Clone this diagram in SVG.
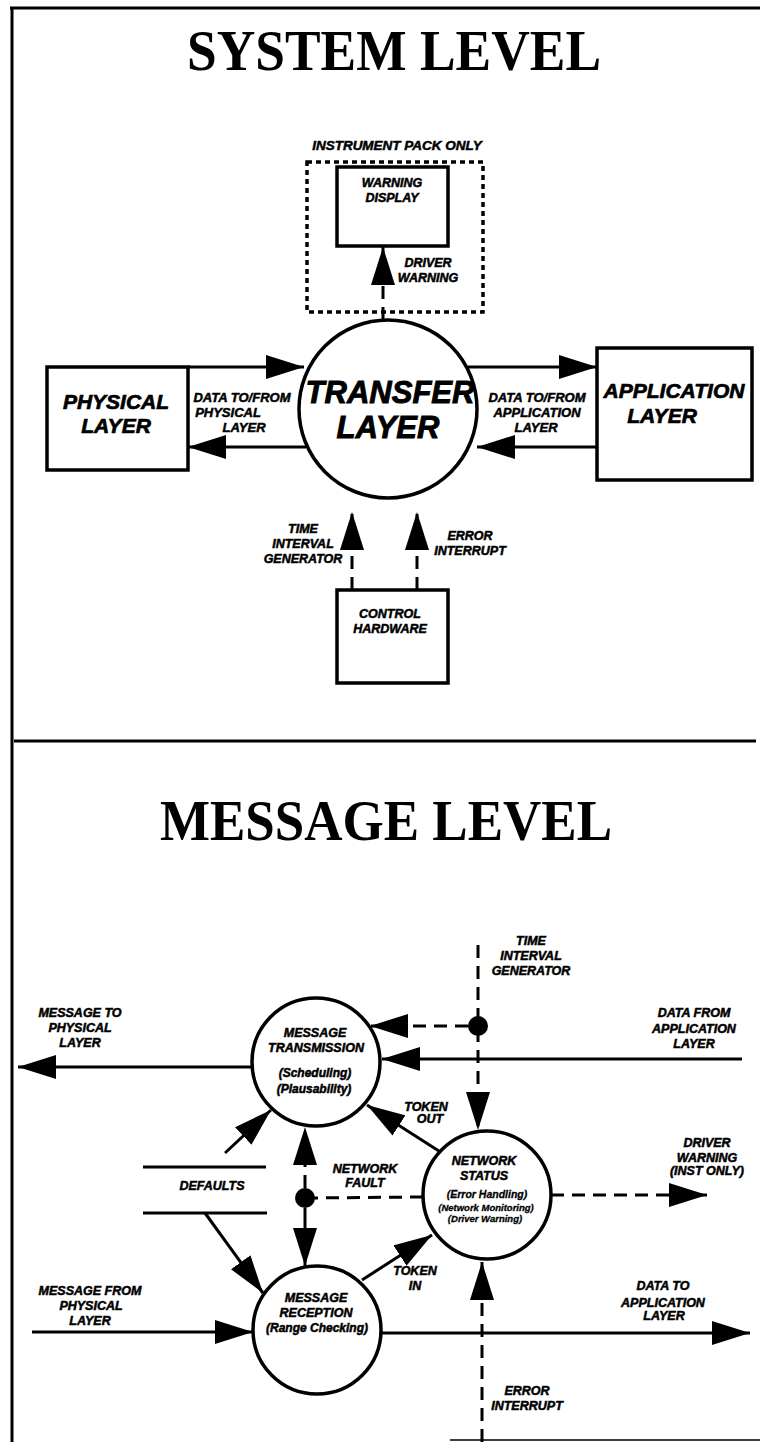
<svg xmlns="http://www.w3.org/2000/svg" width="760" height="1442" viewBox="0 0 760 1442">
<style>
.t{font-family:"Liberation Sans",Arial,sans-serif;font-weight:bold;font-style:italic;fill:#000;stroke:#000;stroke-width:0.5;text-anchor:middle;font-size:12.5px}
.s{font-size:10.5px;stroke-width:0.3}
.b{font-size:21px;stroke-width:0.7}
.h{font-family:"Liberation Serif","Times New Roman",serif;font-weight:bold;font-size:56px;fill:#000;text-anchor:middle}
.ln{stroke:#000;stroke-width:3;fill:none}
.bx{stroke:#000;stroke-width:3.5;fill:#fff}
.dash{stroke-dasharray:13 8}
.dot{stroke-dasharray:5 4;stroke-width:3.5}
</style>
<defs>
<marker id="ah" viewBox="0 0 38 24" refX="38" refY="12" markerWidth="38" markerHeight="24" markerUnits="userSpaceOnUse" orient="auto">
<path d="M0,0 L38,12 L0,24 z" fill="#000"/>
</marker>
</defs>
<rect width="760" height="1442" fill="#fff"/>
<g id="frame">
<line class="ln" x1="10" y1="8" x2="760" y2="8"/>
<line class="ln" x1="12" y1="8" x2="12" y2="1442"/>
<line class="ln" x1="14" y1="741" x2="756" y2="741"/>
<line stroke="#000" stroke-width="1.5" x1="450" y1="1440" x2="760" y2="1440"/>
</g>
<g id="titles">
<text class="h" x="394" y="70" textLength="414" lengthAdjust="spacingAndGlyphs">SYSTEM LEVEL</text>
<text class="h" x="386" y="840" textLength="452" lengthAdjust="spacingAndGlyphs">MESSAGE LEVEL</text>
</g>
<g id="connectors">
<line class="ln dash" x1="383" y1="320" x2="383" y2="247" marker-end="url(#ah)"/>
<line class="ln" x1="188" y1="367" x2="304" y2="367" marker-end="url(#ah)"/>
<line class="ln" x1="306" y1="447" x2="188" y2="447" marker-end="url(#ah)"/>
<line class="ln" x1="468" y1="367" x2="597" y2="367" marker-end="url(#ah)"/>
<line class="ln" x1="597" y1="447" x2="477" y2="447" marker-end="url(#ah)"/>
<line class="ln dash" x1="352" y1="590" x2="352" y2="512" marker-end="url(#ah)"/>
<line class="ln dash" x1="417" y1="590" x2="417" y2="512" marker-end="url(#ah)"/>
<line class="ln" x1="252" y1="1067" x2="18" y2="1067" marker-end="url(#ah)"/>
<line class="ln dash" x1="478" y1="945" x2="478" y2="1130" marker-end="url(#ah)"/>
<line class="ln dash" x1="468" y1="1026" x2="370" y2="1026" marker-end="url(#ah)"/>
<line class="ln" x1="742" y1="1059" x2="382" y2="1059" marker-end="url(#ah)"/>
<line class="ln" x1="442" y1="1153" x2="367" y2="1105" marker-end="url(#ah)"/>
<line class="ln dash" x1="423" y1="1197" x2="305" y2="1198"/>
<line class="ln dash" x1="305" y1="1188" x2="305" y2="1127" marker-end="url(#ah)"/>
<line class="ln" x1="305" y1="1208" x2="305" y2="1266" marker-end="url(#ah)"/>
<line class="ln" x1="225" y1="1153" x2="271" y2="1110" marker-end="url(#ah)"/>
<line class="ln" x1="205" y1="1213" x2="263" y2="1293" marker-end="url(#ah)"/>
<line class="ln" x1="32" y1="1332" x2="253" y2="1332" marker-end="url(#ah)"/>
<line class="ln" x1="362" y1="1280" x2="432" y2="1235" marker-end="url(#ah)"/>
<line class="ln" x1="381" y1="1333" x2="750" y2="1333" marker-end="url(#ah)"/>
<line class="ln dash" x1="482" y1="1442" x2="482" y2="1262" marker-end="url(#ah)"/>
<line class="ln dash" x1="551" y1="1195" x2="707" y2="1195" marker-end="url(#ah)"/>
<circle cx="478" cy="1026" r="10" fill="#000"/>
<circle cx="305" cy="1198" r="10" fill="#000"/>
</g>
<g id="instrument-pack">
<rect class="ln dot" x="307" y="162" width="176" height="150"/>
<text class="t" x="397" y="150" style="font-size:13.5px">INSTRUMENT PACK ONLY</text>
</g>
<g id="warning-display">
<rect class="bx" x="337" y="167" width="111" height="79"/>
<text class="t" x="392" y="187">WARNING</text>
<text class="t" x="392" y="202">DISPLAY</text>
</g>
<g id="transfer-layer">
<circle class="bx" cx="388" cy="409" r="89"/>
<text class="t" x="390" y="403" style="font-size:31px;stroke-width:0.9">TRANSFER</text>
<text class="t" x="388" y="438" style="font-size:31px;stroke-width:0.9">LAYER</text>
</g>
<g id="physical-layer">
<rect class="bx" x="47" y="367" width="141" height="103"/>
<text class="t b" x="116" y="409">PHYSICAL</text>
<text class="t b" x="116" y="433">LAYER</text>
</g>
<g id="application-layer">
<rect class="bx" x="597" y="348" width="155" height="132"/>
<text class="t b" x="674" y="398">APPLICATION</text>
<text class="t b" x="662" y="423">LAYER</text>
</g>
<g id="control-hardware">
<rect class="bx" x="337" y="590" width="111" height="93"/>
<text class="t" x="390" y="618">CONTROL</text>
<text class="t" x="390" y="633">HARDWARE</text>
</g>
<g id="system-labels">
<text class="t" x="428" y="267">DRIVER</text>
<text class="t" x="428" y="282">WARNING</text>
<text class="t" x="242" y="402" style="font-size:13px">DATA TO/FROM</text>
<text class="t" x="228" y="417" style="font-size:13px">PHYSICAL</text>
<text class="t" x="244" y="432" style="font-size:13px">LAYER</text>
<text class="t" x="537" y="402" style="font-size:13px">DATA TO/FROM</text>
<text class="t" x="537" y="417" style="font-size:13px">APPLICATION</text>
<text class="t" x="536" y="432" style="font-size:13px">LAYER</text>
<text class="t" x="303" y="533">TIME</text>
<text class="t" x="303" y="548">INTERVAL</text>
<text class="t" x="303" y="563">GENERATOR</text>
<text class="t" x="470" y="540">ERROR</text>
<text class="t" x="470" y="555">INTERRUPT</text>
</g>
<g id="message-transmission">
<circle class="bx" cx="316" cy="1062" r="64"/>
<text class="t" x="315" y="1037">MESSAGE</text>
<text class="t" x="316" y="1052">TRANSMISSION</text>
<text class="t" x="315" y="1077" style="font-size:12px">(Scheduling)</text>
<text class="t" x="314" y="1093" style="font-size:12px">(Plausability)</text>
</g>
<g id="network-status">
<circle class="bx" cx="487" cy="1195" r="64"/>
<text class="t" x="484" y="1165">NETWORK</text>
<text class="t" x="484" y="1180">STATUS</text>
<text class="t s" x="487" y="1198">(Error Handling)</text>
<text class="t s" x="486" y="1211" style="font-size:9.5px">(Network Monitoring)</text>
<text class="t s" x="485" y="1222" style="font-size:9.5px">(Driver Warning)</text>
</g>
<g id="message-reception">
<circle class="bx" cx="317" cy="1330" r="64"/>
<text class="t" x="316" y="1302">MESSAGE</text>
<text class="t" x="316" y="1317">RECEPTION</text>
<text class="t" x="317" y="1332" style="font-size:12px">(Range Checking)</text>
</g>
<g id="defaults">
<line class="ln" x1="143" y1="1167" x2="266" y2="1167"/>
<line class="ln" x1="143" y1="1213" x2="267" y2="1213"/>
<text class="t" x="212" y="1190">DEFAULTS</text>
</g>
<g id="message-labels">
<text class="t" x="531" y="945">TIME</text>
<text class="t" x="531" y="960">INTERVAL</text>
<text class="t" x="531" y="975">GENERATOR</text>
<text class="t" x="80" y="1017">MESSAGE TO</text>
<text class="t" x="80" y="1032">PHYSICAL</text>
<text class="t" x="80" y="1047">LAYER</text>
<text class="t" x="694" y="1017">DATA FROM</text>
<text class="t" x="694" y="1033">APPLICATION</text>
<text class="t" x="694" y="1048">LAYER</text>
<text class="t" x="426" y="1111">TOKEN</text>
<text class="t" x="430" y="1123">OUT</text>
<text class="t" x="365" y="1173">NETWORK</text>
<text class="t" x="365" y="1187">FAULT</text>
<text class="t" x="707" y="1147">DRIVER</text>
<text class="t" x="707" y="1162">WARNING</text>
<text class="t" x="707" y="1175">(INST ONLY)</text>
<text class="t" x="90" y="1295">MESSAGE FROM</text>
<text class="t" x="91" y="1310">PHYSICAL</text>
<text class="t" x="90" y="1325">LAYER</text>
<text class="t" x="415" y="1275">TOKEN</text>
<text class="t" x="415" y="1290">IN</text>
<text class="t" x="663" y="1290">DATA TO</text>
<text class="t" x="663" y="1307">APPLICATION</text>
<text class="t" x="664" y="1320">LAYER</text>
<text class="t" x="527" y="1395">ERROR</text>
<text class="t" x="527" y="1410">INTERRUPT</text>
</g>
</svg>
